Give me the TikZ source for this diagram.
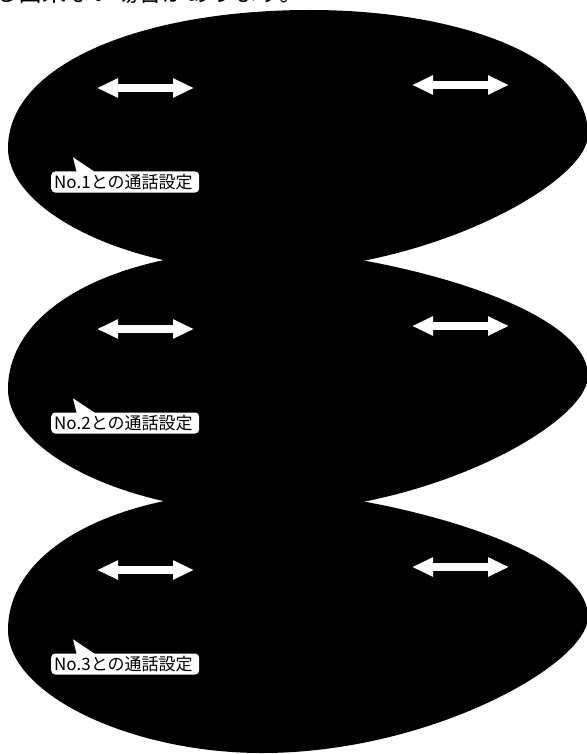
\documentclass[tikz,border=0pt]{standalone}
\usepackage{fontspec}
\newfontfamily\jpfont{Noto Sans CJK JP}
\usetikzlibrary{arrows.meta}

\tikzset{
  blob/.style={fill=black},
  dblarrow/.style={white, line width=8.5pt,
    {Triangle[width=18pt,length=21pt]}-{Triangle[width=18pt,length=21pt]}},
  bubble/.style={fill=white, rounded corners=4pt, inner xsep=3pt, inner ysep=0pt,
    minimum height=21pt, text width=142pt, align=left,
    font=\jpfont\fontsize{17}{17}\selectfont},
}

\begin{document}
\begin{tikzpicture}[x=1pt,y=-1pt]
  \useasboundingbox (0,0) rectangle (586,754);

  % cut-off line of text at the top
  \node[anchor=base west, inner sep=0pt, font=\jpfont\fontsize{24}{24}\selectfont]
    (toptext) at (-6,2) {る出来ない場合があります。};

  % first dark area (its top reaches further right)
  \fill[blob, shift={(0,140)}] (8,8) .. controls (8,-75) and (140,-130) .. (310,-130)
    .. controls (455,-130) and (588,-85) .. (588,-5)
    .. controls (588,42) and (430,131) .. (262,131)
    .. controls (130,131) and (8,72) .. (8,8) -- cycle;

  % second and third dark areas
  \foreach \cy in {381,622}
    \fill[blob, shift={(0,\cy)}] (8,8) .. controls (8,-75) and (120,-131) .. (266,-131)
      .. controls (360,-131) and (588,-80) .. (588,-5)
      .. controls (588,42) and (430,131) .. (262,131)
      .. controls (130,131) and (8,72) .. (8,8) -- cycle;

  \foreach \n/\cy in {1/140,2/381,3/622} {
    % arrows, left and right
    \coordinate (la\n) at (97,\cy-52);
    \coordinate (lb\n) at (194,\cy-52);
    \coordinate (ra\n) at (412,\cy-55);
    \coordinate (rb\n) at (509,\cy-55);
    \draw[dblarrow] (la\n) -- (lb\n);
    \draw[dblarrow] (ra\n) -- (rb\n);
    % label with its pointer
    \node[bubble, anchor=west] (call\n) at (51,\cy+42) {No.\n との通話設定};
    \fill[white] ([shift={(26,2)}]call\n.north west) -- ([shift={(22,-14)}]call\n.north west)
      -- ([shift={(46,2)}]call\n.north west) -- cycle;
  }
\end{tikzpicture}
\end{document}
